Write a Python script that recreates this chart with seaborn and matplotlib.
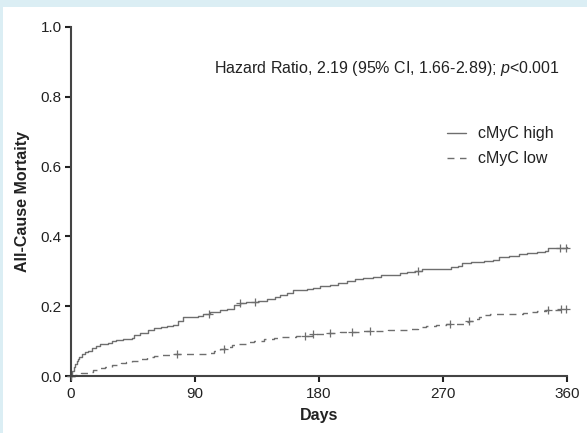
import numpy as np
import pandas as pd
import matplotlib
matplotlib.use("Agg")
import matplotlib.pyplot as plt
import seaborn as sns

# ---------------- data ----------------
high_t = [0, 1, 2, 3, 4, 5, 6, 8, 10, 12, 15, 18, 21, 27, 30, 33, 38, 44, 46, 50, 56, 60, 65, 70,
          74, 78, 81, 88, 92, 96, 101, 108, 113, 118, 123, 127, 136, 142, 148, 152, 157, 161, 171,
          176, 181, 188, 194, 200, 206, 212, 219, 225, 232, 239, 244, 250, 255, 262, 276, 281, 284,
          290, 300, 306, 311, 318, 325, 331, 338, 344, 346, 360]
high_y = [0.0, 0.015, 0.025, 0.035, 0.042, 0.05, 0.055, 0.062, 0.068, 0.072, 0.08, 0.086, 0.092,
          0.094, 0.1, 0.103, 0.107, 0.11, 0.117, 0.122, 0.132, 0.137, 0.141, 0.144, 0.146, 0.158,
          0.168, 0.17, 0.173, 0.178, 0.184, 0.188, 0.192, 0.203, 0.208, 0.211, 0.215, 0.22, 0.227,
          0.232, 0.238, 0.246, 0.249, 0.253, 0.257, 0.262, 0.267, 0.272, 0.277, 0.28, 0.285, 0.288,
          0.29, 0.295, 0.298, 0.302, 0.306, 0.308, 0.311, 0.315, 0.323, 0.327, 0.33, 0.333, 0.342,
          0.345, 0.349, 0.352, 0.355, 0.357, 0.366, 0.37]
high_cens = [0, 100, 123, 133.5, 252, 355, 359.5]

low_t = [0, 3, 7, 12, 16, 20, 25, 30, 36, 40, 44, 50, 55, 60, 65, 75, 101, 104, 108, 112, 117,
         121, 128, 133, 140, 147, 152, 163, 175, 185, 195, 210, 230, 244, 252, 258, 265, 272, 286,
         289, 292, 296, 300, 304, 328, 333, 338, 345, 355, 360]
low_y = [0.0, 0.004, 0.008, 0.012, 0.017, 0.022, 0.027, 0.031, 0.036, 0.04, 0.044, 0.05, 0.055,
         0.058, 0.061, 0.064, 0.067, 0.071, 0.077, 0.084, 0.089, 0.093, 0.097, 0.101, 0.105, 0.109,
         0.113, 0.116, 0.119, 0.123, 0.127, 0.13, 0.133, 0.136, 0.139, 0.142, 0.146, 0.15, 0.154,
         0.158, 0.164, 0.169, 0.175, 0.178, 0.18, 0.184, 0.186, 0.19, 0.193, 0.193]
low_cens = [0, 77, 111, 170, 176, 188, 204, 217, 275, 289, 346, 356, 359]

series_labels = ["cMyC high", "cMyC low"]
x_ticks = [0, 90, 180, 270, 360]
y_ticks = [0.0, 0.2, 0.4, 0.6, 0.8, 1.0]
annotation = "Hazard Ratio, 2.19 (95% CI, 1.66-2.89); $\\it{p}$<0.001"


def step_at(ts, ys, c):
    idx = np.searchsorted(ts, c, side="right") - 1
    return np.asarray(ys)[idx]


# ---------------- plot ----------------
sns.set_style("ticks")
plt.rcParams["font.family"] = ["Liberation Sans", "DejaVu Sans"]
plt.rcParams["mathtext.fontset"] = "custom"
plt.rcParams["mathtext.it"] = "Liberation Sans:italic"
plt.rcParams["mathtext.rm"] = "Liberation Sans"

fig = plt.figure(figsize=(5.87, 4.33), dpi=100)
fig.patch.set_facecolor("#dbeef4")
fig.add_artist(plt.Rectangle((3 / 587, 0), 1, (433 - 7) / 433, transform=fig.transFigure,
                             facecolor="white", edgecolor="none", zorder=0))
ax = fig.add_axes([71 / 587, 57 / 433, 496 / 587, 349 / 433])
ax.set_facecolor("none")

col = "#6e6e6e"
dfh = pd.DataFrame({"t": high_t, "y": high_y})
dfl = pd.DataFrame({"t": low_t, "y": low_y})
sns.lineplot(data=dfh, x="t", y="y", ax=ax, drawstyle="steps-post", estimator=None,
             color=col, linewidth=1.0, label=series_labels[0], clip_on=False)
sns.lineplot(data=dfl, x="t", y="y", ax=ax, drawstyle="steps-post", estimator=None,
             color=col, linewidth=1.0, linestyle=(0, (5, 4)), label=series_labels[1],
             clip_on=False)

hc = pd.DataFrame({"t": high_cens, "y": step_at(high_t, high_y, high_cens)})
lc = pd.DataFrame({"t": low_cens, "y": step_at(low_t, low_y, low_cens)})
for d in (hc, lc):
    sns.scatterplot(data=d, x="t", y="y", ax=ax, marker="+", s=40, color=col,
                    linewidth=0.9, clip_on=False, legend=False)

ax.set_xlim(0, 360)
ax.set_ylim(0, 1.0)
ax.set_xticks(x_ticks)
ax.set_yticks(y_ticks)
ax.set_yticklabels([f"{v:.1f}" for v in y_ticks])
ax.tick_params(axis="both", labelsize=11, length=4.5, width=1.5, color="#222222",
               labelcolor="#222222")
ax.tick_params(axis="x", pad=3.5)
ax.tick_params(axis="y", pad=2)
for s in ("top", "right"):
    ax.spines[s].set_visible(False)
for s in ("left", "bottom"):
    ax.spines[s].set_color("#444444")
    ax.spines[s].set_linewidth(1.5)

ax.set_xlabel("Days", fontsize=11.5, fontweight="bold", labelpad=5, color="#222222")
ax.set_ylabel("All-Cause Mortaity", fontsize=11.5, fontweight="bold", labelpad=8,
              color="#222222")

ax.text(0.288, 0.868, annotation, transform=ax.transAxes, fontsize=11.5,
        color="#222222", va="baseline", ha="left")

leg = ax.legend(loc="upper left", bbox_to_anchor=(0.758, 0.716), frameon=False,
                fontsize=11.5, handlelength=1.2, handletextpad=0.75, labelspacing=0.64,
                borderpad=0, borderaxespad=0)
for t in leg.get_texts():
    t.set_color("#222222")

fig.savefig("out.png", dpi=100)
